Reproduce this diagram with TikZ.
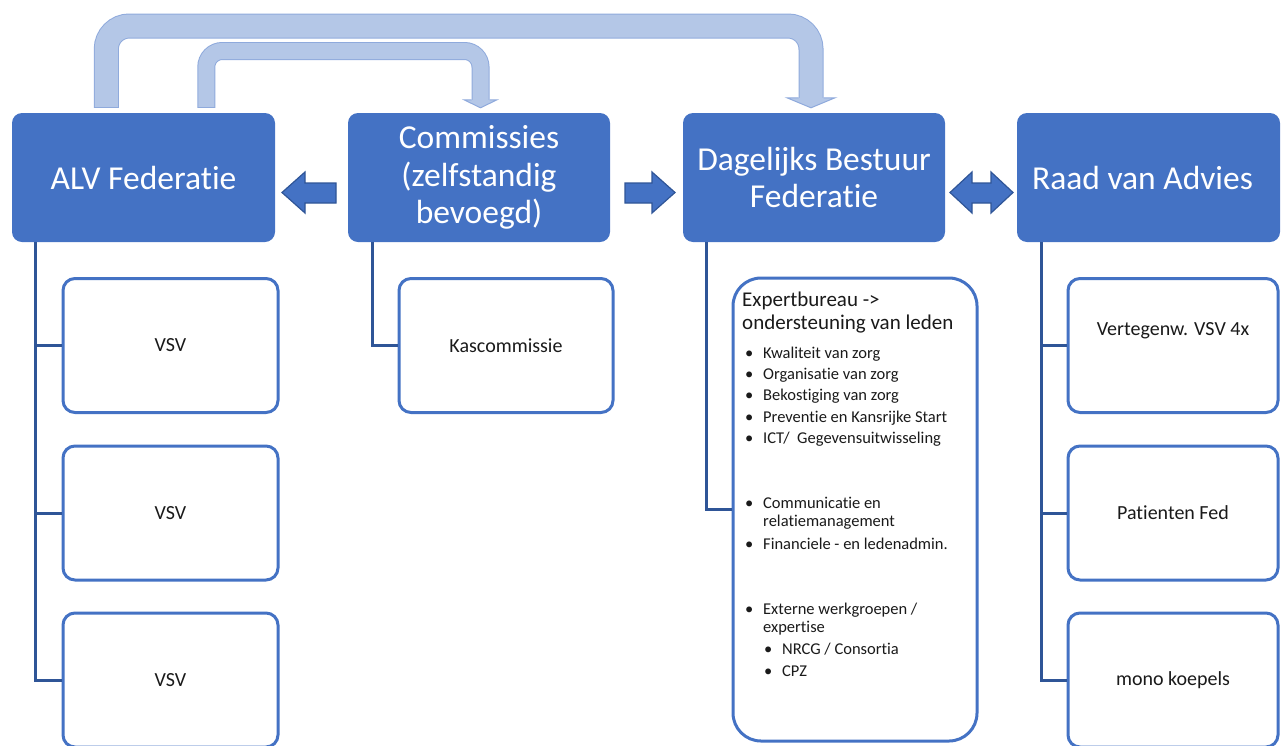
\documentclass[tikz,border=0pt]{standalone}
\usepackage{fontspec}
\setmainfont{Carlito}[Ligatures={NoCommon,NoContextual,NoRare},Contextuals=NoAlternate]
\usetikzlibrary{calc}
\definecolor{mainblue}{HTML}{4472C4}
\definecolor{darkblue}{HTML}{2F5597}
\definecolor{lightfill}{HTML}{B4C7E7}
\definecolor{lightline}{HTML}{8FAADC}
\definecolor{txt}{HTML}{1A1A1A}
\begin{document}
\begin{tikzpicture}[x=1pt,y=-1pt,
  headbox/.style={fill=mainblue, rounded corners=10pt, minimum width=263pt, minimum height=129pt,
    text=white, font=\fontsize{33.5}{37.5}\selectfont, align=center, inner sep=0pt},
  childbox/.style={draw=mainblue, line width=3pt, fill=white, rounded corners=12pt,
    minimum height=134pt, text=txt, font=\fontsize{20}{24}\selectfont, inner sep=0pt},
  childtext/.style={text=txt, font=\fontsize{20}{24}\selectfont, inner sep=0pt},
  link/.style={draw=darkblue, line width=3pt},
  blockarrow/.style={fill=mainblue, draw=darkblue, line width=1.2pt, line join=miter},
  hdr/.style={anchor=base west, font=\fontsize{21}{23}\selectfont, text=txt, inner sep=0pt},
  bul/.style={anchor=base west, font=\fontsize{16.5}{20}\selectfont, text=txt, inner sep=0pt},
]
\useasboundingbox (0,0) rectangle (1281,745);
\clip (0,0) rectangle (1281,745);

% top level boxes
\node[headbox] (alv) at (143.5,177.5) {ALV Federatie};
\node[headbox, minimum width=262pt] (com) at (479,177.5) {Commissies\\(zelfstandig\\bevoegd)};
\node[headbox, minimum width=262pt] (dag) at (814,177.5) {Dagelijks Bestuur\\Federatie};
\node[headbox] (raad) at (1148.5,177.5) {\hspace*{-12pt}Raad van Advies};

% child boxes
\node[childbox, minimum width=215pt] (vsv1) at (170.5,345.5) {VSV};
\node[childbox, minimum width=215pt] (vsv2) at (170.5,513) {VSV};
\node[childbox, minimum width=215pt] (vsv3) at (170.5,680) {VSV};
\node[childbox, minimum width=214pt] (kas) at (506,345.5) {Kascommissie};
\node[childbox, minimum width=210pt] (r1) at (1173,345.5) {};
\node[childtext] (r1t) at (r1.center |- 0,331) {Vertegenw. VSV 4x};
\node[childbox, minimum width=210pt] (r2) at (1173,513) {Patienten Fed};
\node[childbox, minimum width=210pt] (r3) at (1173,680) {mono koepels};
\node[childbox, minimum width=244pt, minimum height=463pt, rounded corners=28pt] (exp) at (855,509.5) {};

% connectors
\coordinate (aL) at ([xshift=24pt]alv.south west);
\draw[link] (aL) |- (vsv3.west);
\draw[link] (vsv1.west -| aL) -- (vsv1.west);
\draw[link] (vsv2.west -| aL) -- (vsv2.west);
\coordinate (cL) at ([xshift=25pt]com.south west);
\draw[link] (cL) |- (kas.west);
\coordinate (dL) at ([xshift=24pt]dag.south west);
\draw[link] (dL) |- (exp.west);
\coordinate (rL) at ([xshift=25pt]raad.south west);
\draw[link] (rL) |- (r3.west);
\draw[link] (r1.west -| rL) -- (r1.west);
\draw[link] (r2.west -| rL) -- (r2.west);

% block arrows
\draw[blockarrow] (336,183) -- (305,183) -- (305,172) -- (282,192.5) -- (305,213) -- (305,203) -- (336,203) -- cycle;
\draw[blockarrow] (625,183) -- (652,183) -- (652,172) -- (675,192.5) -- (652,213) -- (652,203) -- (625,203) -- cycle;
\draw[blockarrow] (950,192.5) -- (972,172) -- (972,183) -- (991,183) -- (991,172) -- (1013,192.5) -- (991,213) -- (991,203) -- (972,203) -- (972,213) -- cycle;

% bent arrows (outer: ALV -> Dagelijks, inner: ALV -> Commissies)
\coordinate (o1) at ([xshift=94.5pt,yshift=5pt]alv.north west);
\coordinate (o2) at ([xshift=-3pt,yshift=5pt]dag.north);
\coordinate (i1) at ([xshift=194.5pt,yshift=5pt]alv.north west);
\coordinate (i2) at ([xshift=1.5pt,yshift=5pt]com.north);

\draw[lightline, line width=25pt, rounded corners=23pt] (o1) -- (o1 |- 0,26) -- (o2 |- 0,26) -- ([yshift=10pt]o2);
\draw[lightfill, line width=23pt, rounded corners=23pt] ([yshift=1pt]o1) -- (o1 |- 0,26) -- (o2 |- 0,26) -- ([yshift=9pt]o2);
\fill[lightfill] ([xshift=-24pt,yshift=10pt]o2) -- (o2) -- ([xshift=24pt,yshift=10pt]o2) -- cycle;
\draw[lightline, line width=1pt, line join=miter] ([xshift=-12.5pt,yshift=10pt]o2) -- ([xshift=-24pt,yshift=10pt]o2) -- (o2) -- ([xshift=24pt,yshift=10pt]o2) -- ([xshift=12.5pt,yshift=10pt]o2);

\draw[lightline, line width=18pt, rounded corners=16pt] (i1) -- (i1 |- 0,51) -- (i2 |- 0,51) -- ([yshift=8pt]i2);
\draw[lightfill, line width=16pt, rounded corners=16pt] ([yshift=1pt]i1) -- (i1 |- 0,51) -- (i2 |- 0,51) -- ([yshift=7pt]i2);
\fill[lightfill] ([xshift=-16.5pt,yshift=8pt]i2) -- (i2) -- ([xshift=16.5pt,yshift=8pt]i2) -- cycle;
\draw[lightline, line width=1pt, line join=miter] ([xshift=-9pt,yshift=8pt]i2) -- ([xshift=-16.5pt,yshift=8pt]i2) -- (i2) -- ([xshift=16.5pt,yshift=8pt]i2) -- ([xshift=9pt,yshift=8pt]i2);

% expert bureau text
\node[hdr] (h1) at (742,306) {Expertbureau ->};
\node[hdr] (h2) at (742,329) {ondersteuning van leden};
\node[bul] (b1) at (745,358) {\makebox[18pt][l]{•}Kwaliteit van zorg};
\node[bul] (b2) at (745,379) {\makebox[18pt][l]{•}Organisatie van zorg};
\node[bul] (b3) at (745,400) {\makebox[18pt][l]{•}Bekostiging van zorg};
\node[bul] (b4) at (745,422) {\makebox[18pt][l]{•}Preventie en Kansrijke Start};
\node[bul] (b5) at (745,443) {\makebox[18pt][l]{•}ICT/~ Gegevensuitwisseling};
\node[bul] (b6) at (745,508) {\makebox[18pt][l]{•}Communicatie en};
\node[bul] (b6b) at (763,526) {relatiemanagement};
\node[bul] (b7) at (745,549) {\makebox[18pt][l]{•}Financiele - en ledenadmin.};
\node[bul] (b8) at (745,614) {\makebox[18pt][l]{•}Externe werkgroepen /};
\node[bul] (b8b) at (763,632) {expertise};
\node[bul] (s1) at (764,654) {\makebox[18pt][l]{•}NRCG / Consortia};
\node[bul] (s2) at (764,676) {\makebox[18pt][l]{•}CPZ};
\end{tikzpicture}
\end{document}
